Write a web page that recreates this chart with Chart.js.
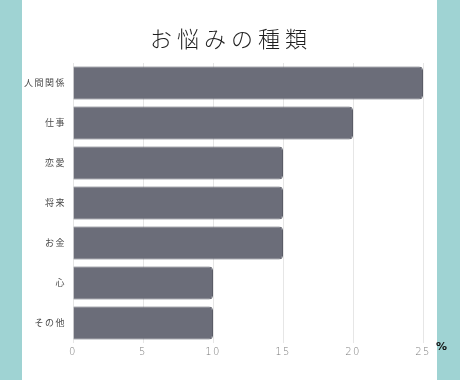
<!DOCTYPE html>
<html>
<head>
<meta charset="utf-8">
<script src="https://cdn.jsdelivr.net/npm/chart.js@4"></script>
<style>
  html, body { margin: 0; padding: 0; background: #ffffff; }
  #wrap { position: relative; width: 460px; height: 380px; }
</style>
</head>
<body>
<div id="wrap"><canvas id="chart" width="460" height="380"></canvas></div>
<script>
// chart data
const chartTitle = 'お悩みの種類';
const categories = ['人間関係', '仕事', '恋愛', '将来', 'お金', '心', 'その他'];
const percentValues = [25, 20, 15, 15, 15, 10, 10];
const xTicks = [0, 5, 10, 15, 20, 25];
const unitLabel = '%';

const jpFont = '"Noto Sans CJK JP", "Noto Sans", sans-serif';

// page frame, title and unit label
const framePlugin = {
    id: 'frame',
    beforeDraw(chart) {
        const ctx = chart.ctx;
        ctx.save();
        ctx.fillStyle = '#ffffff';
        ctx.fillRect(0, 0, chart.width, chart.height);
        ctx.fillStyle = '#9fd3d3';
        ctx.fillRect(0, 0, 22, chart.height);
        ctx.fillRect(437, 0, chart.width - 437, chart.height);
        ctx.restore();
    },
    afterDraw(chart) {
        const ctx = chart.ctx;
        ctx.save();
        ctx.letterSpacing = '5px';
        ctx.font = '300 22px ' + jpFont;
        ctx.fillStyle = '#1e1e1e';
        ctx.textAlign = 'center';
        ctx.textBaseline = 'middle';
        ctx.fillText(chartTitle, 231, 39);
        ctx.letterSpacing = '0px';
        ctx.font = 'bold 11px "DejaVu Sans", sans-serif';
        ctx.fillStyle = '#111111';
        ctx.textAlign = 'left';
        ctx.fillText(unitLabel, 436, 347);
        ctx.restore();
    }
};

// small letter spacing for tick labels
const spacingPlugin = {
    id: 'spacing',
    beforeUpdate(chart) { chart.ctx.letterSpacing = '1.5px'; },
    beforeDraw(chart) { chart.ctx.letterSpacing = '1.5px'; }
};

new Chart(document.getElementById('chart'), {
    type: 'bar',
    data: {
        labels: categories,
        datasets: [{
            data: percentValues,
            backgroundColor: '#6b6d79',
            borderColor: '#5a5c67',
            borderWidth: 1,
            borderRadius: 4,
            borderSkipped: 'start',
            categoryPercentage: 1,
            barPercentage: 0.83
        }]
    },
    options: {
        indexAxis: 'y',
        responsive: false,
        animation: false,
        layout: { padding: { top: 63, right: 37, bottom: 17, left: 0 } },
        plugins: {
            legend: { display: false },
            title: { display: false },
            tooltip: { enabled: false }
        },
        scales: {
            x: {
                min: 0,
                max: 25,
                afterBuildTicks(scale) { scale.ticks = xTicks.map(v => ({ value: v })); },
                afterFit(scale) { scale.height = 20; },
                grid: { color: '#e6e6e6', lineWidth: 1, drawTicks: false },
                border: { display: false },
                ticks: {
                    padding: 3,
                    color: '#7a7a7a',
                    font: { family: '"DejaVu Sans", sans-serif', size: 10, weight: '300' }
                }
            },
            y: {
                afterFit(scale) { scale.width = 73; },
                grid: { display: false, drawTicks: false },
                border: { display: false },
                ticks: {
                    padding: 7,
                    color: '#4a4a4a',
                    font: { family: jpFont, size: 9 }
                }
            }
        }
    },
    plugins: [framePlugin, spacingPlugin]
});
</script>
</body>
</html>
